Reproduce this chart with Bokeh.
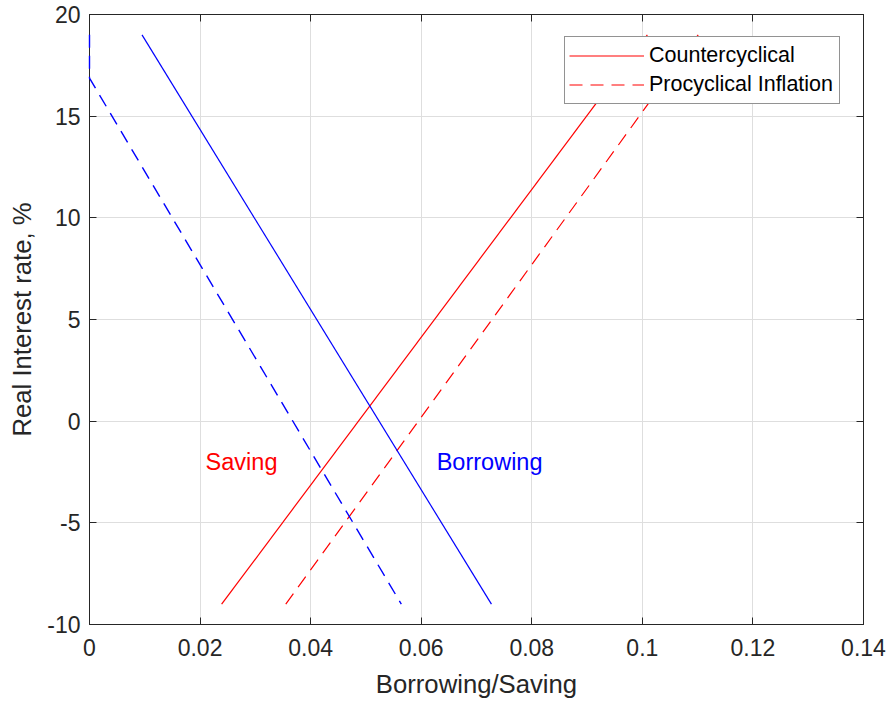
from bokeh.plotting import figure
from bokeh.models import LinearAxis, FixedTicker, Legend, LegendItem, Range1d, ColumnDataSource
from bokeh.core.properties import value
from bokeh.embed import file_html
from bokeh.resources import INLINE

# ---- data ----
x_ticks = [0, 0.02, 0.04, 0.06, 0.08, 0.10, 0.12, 0.14]
x_tick_labels = ["0", "0.02", "0.04", "0.06", "0.08", "0.1", "0.12", "0.14"]
y_ticks = [-10, -5, 0, 5, 10, 15, 20]
y_tick_labels = ["-10", "-5", "0", "5", "10", "15", "20"]

borrow_counter_x = [0.0095, 0.0727]
borrow_counter_y = [19, -9]
borrow_pro_x = [0.0, 0.0, 0.0564]
borrow_pro_y = [19, 16.87, -9]
save_counter_x = [0.0239, 0.1009]
save_counter_y = [-9, 19]
save_pro_x = [0.0355, 0.1101]
save_pro_y = [-9, 19]

label_texts = ["Saving", "Borrowing"]
label_x = [0.021, 0.0628]
label_y = [-2, -2]
label_colors = ["#ff0000", "#0000ff"]

legend_labels = ["Countercyclical", "Procyclical Inflation"]

FONT = "Liberation Sans"
AX = "#262626"
DASH = "13 8"

p = figure(frame_width=774, frame_height=610,
           min_border_left=89, min_border_right=26, min_border_top=14, min_border_bottom=82,
           x_range=Range1d(0, 0.14), y_range=Range1d(-10, 20),
           output_backend="svg", toolbar_location=None,
           background_fill_color="white", border_fill_color="white")
p.outline_line_color = AX
p.outline_line_width = 1

for ax in p.xaxis + p.yaxis:
    ax.axis_line_color = AX
    ax.major_tick_line_color = AX
    ax.major_tick_in = 7
    ax.major_tick_out = 0
    ax.minor_tick_line_color = None
    ax.major_label_text_font = FONT
    ax.major_label_text_font_size = "23px"
    ax.major_label_text_color = AX
    ax.axis_label_text_font = FONT
    ax.axis_label_text_font_size = "25.7px"
    ax.axis_label_text_font_style = "normal"
    ax.axis_label_text_color = AX

p.xaxis.ticker = FixedTicker(ticks=x_ticks)
p.xaxis.major_label_overrides = {t: l for t, l in zip(x_ticks, x_tick_labels)}
p.yaxis.ticker = FixedTicker(ticks=y_ticks)
p.yaxis.major_label_overrides = {t: l for t, l in zip(y_ticks, y_tick_labels)}
p.xaxis.axis_label = "Borrowing/Saving"
p.yaxis.axis_label = "Real Interest rate, %"
p.xaxis.major_label_standoff = 14
p.xaxis.axis_label_standoff = 11
p.yaxis.major_label_standoff = 9
p.yaxis.axis_label_standoff = 8

# mirrored ticks on top and right
for loc in ["above", "right"]:
    a = LinearAxis(ticker=FixedTicker(ticks=x_ticks if loc == "above" else y_ticks))
    a.axis_line_color = AX
    a.major_tick_line_color = AX
    a.major_tick_in = 7
    a.major_tick_out = 0
    a.minor_tick_line_color = None
    a.major_label_text_font_size = "1px"
    a.major_label_text_color = None
    a.major_label_standoff = 0
    p.add_layout(a, loc)

p.xgrid.ticker = FixedTicker(ticks=x_ticks)
p.ygrid.ticker = FixedTicker(ticks=y_ticks)
p.grid.grid_line_color = "#dedede"
p.grid.grid_line_width = 1

r1 = p.line(save_counter_x, save_counter_y, line_color="#ff0000", line_width=1.2)
r2 = p.line(save_pro_x, save_pro_y, line_color="#ff0000", line_width=1.2, line_dash=DASH)
p.line(borrow_counter_x, borrow_counter_y, line_color="#0000ff", line_width=1.2)
p.line(borrow_pro_x, borrow_pro_y, line_color="#0000ff", line_width=1.4, line_dash=DASH,
       level="overlay")

src = ColumnDataSource(dict(x=label_x, y=label_y, t=label_texts, c=label_colors))
p.text(x="x", y="y", text="t", text_color="c", source=src,
       text_font=value(FONT), text_font_size="23.5px",
       text_align="left", text_baseline="middle")

legend = Legend(items=[LegendItem(label=legend_labels[0], renderers=[r1]),
                       LegendItem(label=legend_labels[1], renderers=[r2])],
                location=(475, 520))
legend.border_line_color = AX
legend.border_line_width = 1
legend.background_fill_color = "white"
legend.background_fill_alpha = 1
legend.label_text_font = FONT
legend.label_text_font_size = "21.5px"
legend.label_text_color = "#000000"
legend.glyph_width = 75
legend.glyph_height = 29
legend.label_height = 29
legend.label_width = 186
legend.label_standoff = 5
legend.spacing = 0
legend.padding = 4
legend.margin = 0
p.add_layout(legend, "center")

open("out.html", "w").write(file_html(p, INLINE))
